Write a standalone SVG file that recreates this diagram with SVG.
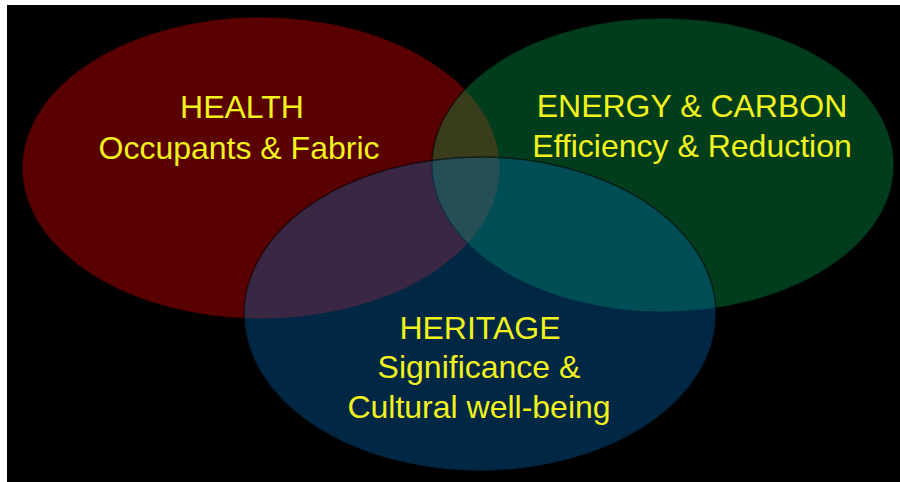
<svg xmlns="http://www.w3.org/2000/svg" width="900" height="482" viewBox="0 0 900 482">
  <style>
    .circle { fill-opacity: 0.35; stroke: #000; stroke-opacity: 0.55; stroke-width: 1.5; }
    .label { font-family: "Liberation Sans", Arial, sans-serif; font-size: 32px; fill: #f2f21c; text-anchor: middle; }
  </style>
  <rect x="0" y="0" width="900" height="482" fill="#ffffff"/>
  <rect x="7" y="5" width="893" height="477" fill="#000000"/>

  <g id="health">
    <ellipse class="circle" cx="261" cy="168" rx="239" ry="151" fill="#ff0000"/>
  </g>
  <g id="energy-carbon">
    <ellipse class="circle" cx="663" cy="165" rx="231" ry="147" fill="#00b050"/>
  </g>
  <g id="heritage">
    <ellipse class="circle" cx="480" cy="314" rx="236" ry="157" fill="#0070c0"/>
  </g>

  <g id="labels">
    <text class="label" x="242" y="118">HEALTH</text>
    <text class="label" x="239" y="159">Occupants &amp; Fabric</text>
    <text class="label" x="692" y="117">ENERGY &amp; CARBON</text>
    <text class="label" x="692" y="157">Efficiency &amp; Reduction</text>
    <text class="label" x="480" y="339">HERITAGE</text>
    <text class="label" x="479" y="378">Significance &amp;</text>
    <text class="label" x="479" y="418">Cultural well-being</text>
  </g>
</svg>
